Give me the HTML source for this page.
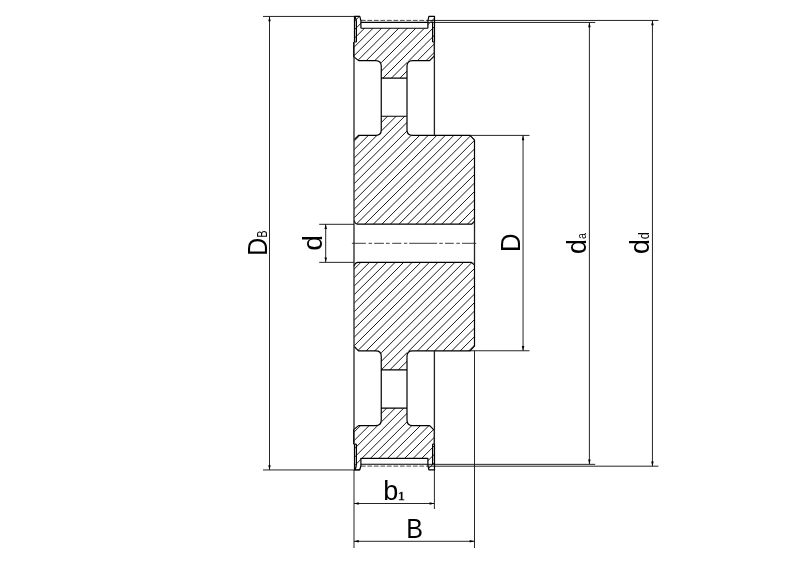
<!DOCTYPE html>
<html><head><meta charset="utf-8"><title>Pulley drawing</title>
<style>
html,body{margin:0;padding:0;background:#fff;}
body{width:800px;height:565px;overflow:hidden;}
svg{display:block;filter:grayscale(1);}
text{font-family:"Liberation Sans",sans-serif;fill:#000;}
.s1{font-family:"Liberation Serif",serif;}
</style></head><body>
<svg width="800" height="565" viewBox="0 0 800 565">
<rect width="800" height="565" fill="#fff"/>
<defs>
<clipPath id="c1"><path d="M354.40,16.30L359.80,16.30L360.90,20.60L360.90,28.20L427.90,28.20L427.90,20.60L428.90,16.30L434.50,16.30L434.50,42.00L434.40,42.00L434.40,55.80L429.60,60.60L407.00,60.60L407.00,78.10L381.25,78.10L381.25,60.60L358.60,60.60L353.60,56.60L353.60,42.00L354.40,42.00Z"/></clipPath>
<clipPath id="c2"><path d="M381.25,116.25L407.00,116.25L407.00,135.30L470.00,135.30L474.50,140.00L474.50,221.50L471.50,224.20L357.50,224.20L354.20,220.50L354.20,139.70L358.50,135.30L381.25,135.30Z"/></clipPath>
<clipPath id="c3"><path d="M381.25,369.95L407.00,369.95L407.00,350.90L470.00,350.90L474.50,346.20L474.50,265.05L471.50,262.35L357.50,262.35L354.20,266.05L354.20,346.50L358.50,350.90L381.25,350.90Z"/></clipPath>
<clipPath id="c4"><path d="M354.40,469.90L359.80,469.90L360.90,465.60L360.90,458.00L427.90,458.00L427.90,465.60L428.90,469.90L434.50,469.90L434.50,444.20L434.40,444.20L434.40,430.40L429.60,425.60L407.00,425.60L407.00,408.10L381.25,408.10L381.25,425.60L358.60,425.60L353.60,429.60L353.60,444.20L354.40,444.20Z"/></clipPath>
</defs>
<g fill="none" stroke="#000" stroke-width="0.9">
<path clip-path="url(#c1)" d="M350.00,0.10L440.00,-89.59M350.00,8.62L440.00,-81.07M350.00,17.14L440.00,-72.55M350.00,25.66L440.00,-64.03M350.00,34.18L440.00,-55.51M350.00,42.70L440.00,-46.99M350.00,51.22L440.00,-38.47M350.00,59.74L440.00,-29.95M350.00,68.26L440.00,-21.43M350.00,76.78L440.00,-12.91M350.00,85.30L440.00,-4.39M350.00,93.82L440.00,4.13M350.00,102.34L440.00,12.65M350.00,110.86L440.00,21.17M350.00,119.38L440.00,29.69M350.00,127.90L440.00,38.21M350.00,136.42L440.00,46.73M350.00,144.94L440.00,55.25M350.00,153.46L440.00,63.77M350.00,161.98L440.00,72.29M350.00,170.50L440.00,80.81M350.00,179.02L440.00,89.33M350.00,187.54L440.00,97.85"/>
<path clip-path="url(#c2)" d="M350.00,102.57L480.00,-26.97M350.00,111.09L480.00,-18.45M350.00,119.61L480.00,-9.93M350.00,128.13L480.00,-1.41M350.00,136.65L480.00,7.11M350.00,145.17L480.00,15.63M350.00,153.69L480.00,24.15M350.00,162.21L480.00,32.67M350.00,170.73L480.00,41.19M350.00,179.25L480.00,49.71M350.00,187.77L480.00,58.23M350.00,196.29L480.00,66.75M350.00,204.81L480.00,75.27M350.00,213.33L480.00,83.79M350.00,221.85L480.00,92.31M350.00,230.37L480.00,100.83M350.00,238.89L480.00,109.35M350.00,247.41L480.00,117.87M350.00,255.93L480.00,126.39M350.00,264.45L480.00,134.91M350.00,272.97L480.00,143.43M350.00,281.49L480.00,151.95M350.00,290.01L480.00,160.47M350.00,298.53L480.00,168.99M350.00,307.05L480.00,177.51M350.00,315.57L480.00,186.03M350.00,324.09L480.00,194.55M350.00,332.61L480.00,203.07M350.00,341.13L480.00,211.59M350.00,349.65L480.00,220.11M350.00,358.17L480.00,228.63M350.00,366.69L480.00,237.15"/>
<path clip-path="url(#c3)" d="M350.00,247.67L480.00,118.13M350.00,256.19L480.00,126.65M350.00,264.71L480.00,135.17M350.00,273.23L480.00,143.69M350.00,281.75L480.00,152.21M350.00,290.27L480.00,160.73M350.00,298.79L480.00,169.25M350.00,307.31L480.00,177.77M350.00,315.83L480.00,186.29M350.00,324.35L480.00,194.81M350.00,332.87L480.00,203.33M350.00,341.39L480.00,211.85M350.00,349.91L480.00,220.37M350.00,358.43L480.00,228.89M350.00,366.95L480.00,237.41M350.00,375.47L480.00,245.93M350.00,383.99L480.00,254.45M350.00,392.51L480.00,262.97M350.00,401.03L480.00,271.49M350.00,409.55L480.00,280.01M350.00,418.07L480.00,288.53M350.00,426.59L480.00,297.05M350.00,435.11L480.00,305.57M350.00,443.63L480.00,314.09M350.00,452.15L480.00,322.61M350.00,460.67L480.00,331.13M350.00,469.19L480.00,339.65M350.00,477.71L480.00,348.17M350.00,486.23L480.00,356.69M350.00,494.75L480.00,365.21M350.00,503.27L480.00,373.73M350.00,511.79L480.00,382.25M350.00,520.31L480.00,390.77"/>
<path clip-path="url(#c4)" d="M350.00,393.53L440.00,303.84M350.00,402.05L440.00,312.36M350.00,410.57L440.00,320.88M350.00,419.09L440.00,329.40M350.00,427.61L440.00,337.92M350.00,436.13L440.00,346.44M350.00,444.65L440.00,354.96M350.00,453.17L440.00,363.48M350.00,461.69L440.00,372.00M350.00,470.21L440.00,380.52M350.00,478.73L440.00,389.04M350.00,487.25L440.00,397.56M350.00,495.77L440.00,406.08M350.00,504.29L440.00,414.60M350.00,512.81L440.00,423.12M350.00,521.33L440.00,431.64M350.00,529.85L440.00,440.16M350.00,538.37L440.00,448.68M350.00,546.89L440.00,457.20M350.00,555.41L440.00,465.72M350.00,563.93L440.00,474.24M350.00,572.45L440.00,482.76"/>
</g>
<g fill="none" stroke="#1a1a1a" stroke-width="0.95">
<path d="M263,16.45L359.8,16.45M263,469.95L359.6,469.95M269.5,16.45L269.5,469.95M319.2,224.3L354,224.3M319.2,262.35L354,262.35M325.7,224.3L325.7,262.35M470,135.4L529.5,135.4M470,350.75L529.5,350.75M523.05,135.4L523.05,350.75M428,22.45L595.2,22.45M428,464.35L595.2,464.35M589.4,22.45L589.4,464.35M428,20.45L658.4,20.45M428,466.2L658.4,466.2M652.45,20.45L652.45,466.2M354,469.95L354,548M434.4,469.95L434.4,509M474.5,350.75L474.5,548M354,503.5L434.4,503.5M354,541.3L474.5,541.3"/>
<path d="M360.9,20.4L427.9,20.4M360.9,466.10L427.9,466.10" stroke-dasharray="4.8 1.7" stroke-width="0.8"/>
<path d="M351.9,243.3L365.9,243.3M368.6,243.3L372,243.3M374.2,243.3L383.9,243.3M386,243.3L389.6,243.3M392.2,243.3L401.4,243.3M404,243.3L407.2,243.3M409.2,243.3L437.1,243.3M439.3,243.3L442.8,243.3M445,243.3L453.75,243.3M456.4,243.3L459.9,243.3M462,243.3L476.2,243.3" stroke-width="0.85"/>
</g>
<path d="M269.5,16.45L268.25,21.25L270.75,21.25ZM269.5,469.95L268.25,465.15L270.75,465.15ZM325.7,224.3L324.45,229.10000000000002L326.95,229.10000000000002ZM325.7,262.35L324.45,257.55L326.95,257.55ZM523.05,135.4L521.8,140.20000000000002L524.3,140.20000000000002ZM523.05,350.75L521.8,345.95L524.3,345.95ZM589.4,22.45L588.15,27.25L590.65,27.25ZM589.4,464.35L588.15,459.55L590.65,459.55ZM652.45,20.45L651.2,25.25L653.7,25.25ZM652.45,466.2L651.2,461.4L653.7,461.4ZM354,503.5L358.8,502.25L358.8,504.75ZM434.4,503.5L429.59999999999997,502.25L429.59999999999997,504.75ZM354,541.3L358.8,540.05L358.8,542.55ZM474.5,541.3L469.7,540.05L469.7,542.55Z" fill="#000"/>
<g fill="none" stroke="#000" stroke-width="1.2" stroke-linejoin="round">
<path d="M353.6,42.00L353.6,56.60L358.6,60.60L375.6,60.60Q381.25,60.60 381.25,66.20L381.25,130.00Q381.25,135.30 375.8,135.30L358.5,135.30L354.2,139.70M434.4,42.00L434.4,55.80L429.6,60.60L412.6,60.60Q407.0,60.60 407.0,66.20L407.0,130.00Q407.0,135.30 412.5,135.30L470,135.30L474.5,140.00L474.5,221.50L471.5,224.20L357.5,224.20Q354.6,223.60 354.2,220.50M381.25,78.10L407.0,78.10M381.25,116.25L407.0,116.25M354.5,42.00L354.5,16.30L359.8,16.30L360.9,20.60L360.9,28.20M356.4,42.00L356.4,21.40Q356.2,18.20 354.9,17.00M354.5,42.00L356.4,42.00M434.5,42.00L434.5,16.30L428.9,16.30L427.9,20.60L427.9,28.20M432.6,42.00L432.6,21.40M432.6,42.00L434.5,42.00"/>
<path d="M353.6,444.20L353.6,429.60L358.6,425.60L375.6,425.60Q381.25,425.60 381.25,420.00L381.25,356.20Q381.25,350.90 375.8,350.90L358.5,350.90L354.2,346.50M434.4,444.20L434.4,430.40L429.6,425.60L412.6,425.60Q407.0,425.60 407.0,420.00L407.0,356.20Q407.0,350.90 412.5,350.90L470,350.90L474.5,346.20L474.5,265.05L471.5,262.35L357.5,262.35Q354.6,262.95 354.2,266.05M381.25,408.10L407.0,408.10M381.25,369.95L407.0,369.95M354.5,444.20L354.5,469.90L359.8,469.90L360.9,465.60L360.9,458.00M356.4,444.20L356.4,464.80Q356.2,468.00 354.9,469.20M354.5,444.20L356.4,444.20M434.5,444.20L434.5,469.90L428.9,469.90L427.9,465.60L427.9,458.00M432.6,444.20L432.6,464.80M432.6,444.20L434.5,444.20"/>
</g>
<g fill="none" stroke="#000" stroke-width="1.15">
<path d="M360.9,22.30L427.9,22.30M360.9,28.20L427.9,28.20M360.9,464.20L427.9,464.20M360.9,458.30L427.9,458.30"/>
</g>
<g fill="none" stroke="#222" stroke-width="1.3">
<path d="M354,42L354,444.20"/>
<path d="M434.4,42L434.4,135.3M434.4,350.90L434.4,444.20"/>
<path d="M474.5,221.5L474.5,265.05"/>
</g>
<text font-size="28.49" transform="translate(266.86,255.86) rotate(-90) scale(0.874,1)">D</text>
<text font-size="13.88" transform="translate(266.86,237.53) rotate(-90) scale(0.755,1)">B</text>
<text font-size="28.38" transform="translate(322.29,250.75) rotate(-90) scale(0.999,1)">d</text>
<text font-size="28.07" transform="translate(520.14,252.06) rotate(-90) scale(0.917,1)">D</text>
<text font-size="27.96" transform="translate(585.89,253.93) rotate(-90) scale(0.958,1)">d</text>
<text font-size="13.18" transform="translate(586.08,239.09) rotate(-90) scale(0.814,1)">a</text>
<text font-size="27.96" transform="translate(648.89,253.93) rotate(-90) scale(0.958,1)">d</text>
<text font-size="14.00" transform="translate(649.01,239.21) rotate(-90) scale(0.911,1)">d</text>
<text font-size="27.96" transform="translate(383.29,500.19) scale(0.969,1)">b</text>
<text class="s1" stroke="#000" stroke-width="0.3" font-size="13.22" transform="translate(397.79,499.90) scale(1.103,1)">1</text>
<text font-size="28.22" transform="translate(406.20,538.44) scale(0.888,1)">B</text>
</svg>
</body></html>
